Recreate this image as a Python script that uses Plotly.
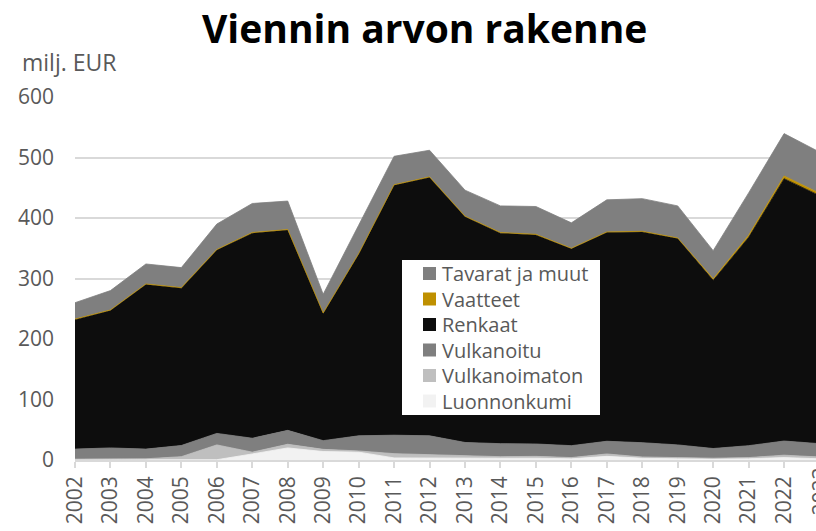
import plotly.graph_objects as go

years = list(range(2002, 2024))
luonnonkumi = [0.5, 0.5, 0.5, 1, 0.5, 10, 20, 14, 13, 3.5, 3, 2.5, 3, 3, 2, 6, 3, 2, 1.5, 2, 4, 2]
vulkanoimaton = [1, 1, 1.5, 4.5, 24.5, 3, 6, 3.6, 2, 7, 6, 4.5, 2.5, 3, 2, 4, 2, 2, 1.5, 2, 4, 3]
vulkanoitu = [16.5, 18.5, 16, 18.5, 19, 23, 23, 14.4, 25, 30.5, 31, 22, 21.5, 20.5, 19.7, 21, 23.6, 21, 16, 19.7, 23.4, 22]
renkaat = [214, 227, 272, 260, 303, 339, 331, 210, 300, 413, 427, 373, 348, 345.5, 325.3, 345, 348.4, 341, 278, 344.3, 433.6, 410]
vaatteet = [1, 1, 1, 1, 1, 1, 1, 1, 1, 1, 1, 1, 1, 1, 1, 1, 1, 1, 2.5, 3.5, 4.5, 4]
tavarat = [27, 32, 33, 33, 42, 48, 47, 31, 47, 47, 44, 43, 44, 46, 42, 53, 54, 53, 46.5, 70, 70, 68]

names = ["Luonnonkumi", "Vulkanoimaton", "Vulkanoitu", "Renkaat", "Vaatteet", "Tavarat ja muut"]
values = [luonnonkumi, vulkanoimaton, vulkanoitu, renkaat, vaatteet, tavarat]
colors = ["#f2f2f2", "#bfbfbf", "#7f7f7f", "#0d0d0d", "#bf9000", "#7f7f7f"]

FONT = "Open Sans"
GRAY = "#595959"

# plot area in pixels
L, R, T, B = 75, 816, 97, 460
W, H = R - L, B - T


def px(x):
    return (x - L) / W


def py(y):
    return (B - y) / H


fig = go.Figure()
for name, vals, col in zip(names, values, colors):
    fig.add_trace(go.Scatter(
        x=years, y=vals, name=name, mode="lines", stackgroup="one",
        line=dict(width=0.8, color=col), fillcolor=col, showlegend=False,
        hoverinfo="skip"))

# legend drawn manually (box, swatches, labels)
shapes = [dict(type="rect", xref="paper", yref="paper",
               x0=px(402), x1=px(600), y0=py(415), y1=py(260),
               fillcolor="white", line=dict(width=0), layer="above")]
annotations = []
leg_names = names[::-1]
leg_colors = colors[::-1]
for i, (nm, col) in enumerate(zip(leg_names, leg_colors)):
    cy = 273.5 + i * 25.5
    shapes.append(dict(type="rect", xref="paper", yref="paper",
                       x0=px(423), x1=px(436), y0=py(cy + 6.5), y1=py(cy - 6.5),
                       fillcolor=col, line=dict(width=0), layer="above"))
    annotations.append(dict(text=nm, xref="paper", yref="paper",
                            x=px(441), y=py(cy), xanchor="left", yanchor="middle",
                            showarrow=False, borderpad=0,
                            font=dict(family=FONT, size=20, color=GRAY)))

annotations += [
    dict(text="<b>Viennin arvon rakenne</b>", xref="paper", yref="paper",
         x=px(424), y=py(27), xanchor="center", yanchor="middle",
         showarrow=False, font=dict(family=FONT, size=39, color="#000000")),
    dict(text="milj. EUR", xref="paper", yref="paper",
         x=px(20), y=py(62), xanchor="left", yanchor="middle",
         showarrow=False, font=dict(family=FONT, size=23, color=GRAY)),
    dict(text="2023", xref="paper", yref="paper", x=px(819.5), y=py(466),
         xanchor="center", yanchor="top", textangle=-90,
         showarrow=False, font=dict(family=FONT, size=21, color=GRAY)),
]

fig.update_layout(
    width=816, height=531,
    margin=dict(l=L, r=816 - R, t=T, b=531 - B),
    paper_bgcolor="white", plot_bgcolor="white",
    font=dict(family=FONT, color=GRAY, size=21),
    showlegend=False,
    shapes=shapes,
    annotations=annotations,
)
fig.update_xaxes(
    range=[2002, 2022.9], tickvals=years, ticktext=[str(y) for y in years],
    tickangle=-90, showgrid=False, zeroline=False,
    showline=True, linecolor="#d9d9d9", linewidth=1.5,
    ticks="outside", ticklen=6, tickcolor="#d9d9d9", tickwidth=1.5,
    tickfont=dict(family=FONT, size=21, color=GRAY),
)
fig.update_yaxes(
    range=[0, 600], tickvals=[0, 100, 200, 300, 400, 500, 600],
    showgrid=True, gridcolor="#d9d9d9", gridwidth=1.5, zeroline=False,
    showline=False, ticks="", ticklabelstandoff=20,
    tickfont=dict(family=FONT, size=21, color=GRAY),
)

fig.write_html("out.html", config={"displayModeBar": False},
               post_script="document.body.style.margin='0px';")
